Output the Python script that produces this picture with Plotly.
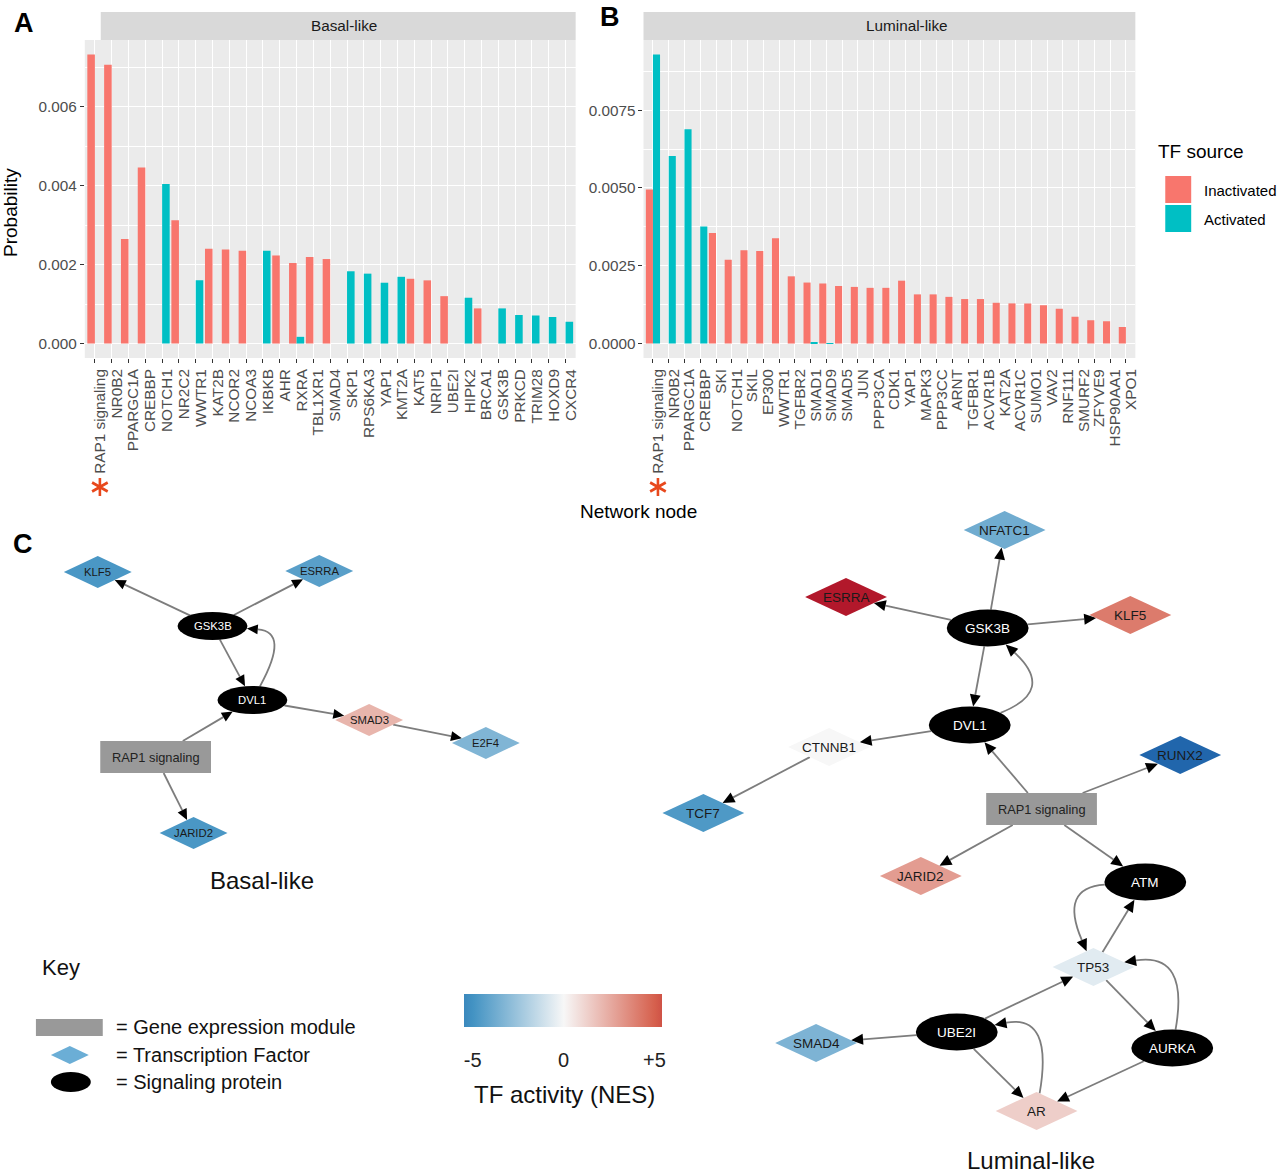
import numpy as np
import plotly.graph_objects as go
from plotly.colors import sample_colorscale

W, H = 1280, 1175
FONT = "Liberation Sans, Arial, sans-serif"

# ---------------- panels A / B : probability per network node ----------------
basal_nodes = ["RAP1 signaling", "NR0B2", "PPARGC1A", "CREBBP", "NOTCH1", "NR2C2", "WWTR1",
               "KAT2B", "NCOR2", "NCOA3", "IKBKB", "AHR", "RXRA", "TBL1XR1", "SMAD4", "SKP1",
               "RPS6KA3", "YAP1", "KMT2A", "KAT5", "NRIP1", "UBE2I", "HIPK2", "BRCA1", "GSK3B",
               "PRKCD", "TRIM28", "HOXD9", "CXCR4"]
basal_inactivated = [0.00732, 0.00706, 0.00265, 0.00446, 0, 0.00312, 0, 0.00240, 0.00238, 0.00235,
                     0, 0.00223, 0.00204, 0.00219, 0.00214, 0, 0, 0, 0, 0.00164,
                     0.00160, 0.00120, 0, 0.00089, 0, 0, 0, 0, 0]
basal_activated = [0, 0, 0, 0, 0.00404, 0, 0.00160, 0, 0, 0,
                   0.00235, 0, 0.00017, 0, 0, 0.00183, 0.00177, 0.00154, 0.00169, 0,
                   0, 0, 0.00116, 0, 0.00089, 0.00072, 0.00071, 0.00067, 0.00055]

luminal_nodes = ["RAP1 signaling", "NR0B2", "PPARGC1A", "CREBBP", "SKI", "NOTCH1", "SKIL", "EP300",
                 "WWTR1", "TGFBR2", "SMAD1", "SMAD9", "SMAD5", "JUN", "PPP3CA", "CDK1", "YAP1",
                 "MAPK3", "PPP3CC", "ARNT", "TGFBR1", "ACVR1B", "KAT2A", "ACVR1C", "SUMO1", "VAV2",
                 "RNF111", "SMURF2", "ZFYVE9", "HSP90AA1", "XPO1"]
luminal_inactivated = [0.00495, 0, 0, 0, 0.00355, 0.00269, 0.00300, 0.00297, 0.00338, 0.00216,
                       0.00196, 0.00193, 0.00185, 0.00182, 0.00179, 0.00179, 0.00202, 0.00158, 0.00158, 0.00150,
                       0.00143, 0.00143, 0.00131, 0.00129, 0.00129, 0.00123, 0.00112, 0.00086, 0.00075, 0.00072,
                       0.00053]
luminal_activated = [0.00929, 0.00603, 0.00689, 0.00376, 0, 0, 0, 0, 0, 0,
                     0.00002, 0.00001, 0, 0, 0, 0, 0, 0, 0, 0,
                     0, 0, 0, 0, 0, 0, 0, 0, 0, 0,
                     0]

source_names = ["Inactivated", "Activated"]
source_colors = ["#F8766D", "#00BFC4"]
highlight_node = "RAP1 signaling"

# ---------------- panel C : networks (layout positions in page pixels) ----------------
basal_net_names = ["KLF5", "ESRRA", "GSK3B", "DVL1", "SMAD3", "E2F4", "RAP1 signaling", "JARID2"]
basal_net_kind = ["tf", "tf", "sig", "sig", "tf", "tf", "module", "tf"]
basal_net_x = [98, 320, 213, 253, 370, 487, 156, 194]
basal_net_y = [572, 571, 626, 700, 720, 743, 757, 833]
basal_net_nes = [-4.8, -4.4, None, None, 2.2, -3.3, None, -4.8]
basal_edges = [("GSK3B", "KLF5", 0), ("GSK3B", "ESRRA", 0), ("GSK3B", "DVL1", 0),
               ("DVL1", "GSK3B", 0.78), ("DVL1", "SMAD3", 0), ("SMAD3", "E2F4", 0),
               ("RAP1 signaling", "DVL1", 0), ("RAP1 signaling", "JARID2", 0)]

luminal_net_names = ["NFATC1", "ESRRA", "KLF5", "GSK3B", "DVL1", "CTNNB1", "TCF7", "RUNX2",
                     "RAP1 signaling", "JARID2", "ATM", "TP53", "UBE2I", "SMAD4", "AURKA", "AR"]
luminal_net_kind = ["tf", "tf", "tf", "sig", "sig", "tf", "tf", "tf",
                    "module", "tf", "sig", "tf", "sig", "tf", "sig", "tf"]
luminal_net_x = [1007, 848, 1133, 990, 972, 831, 705, 1183, 1044, 923, 1148, 1096, 959, 818, 1175, 1039]
luminal_net_y = [530, 597, 615, 628, 725, 747, 813, 755, 809, 876, 882, 967, 1032, 1043, 1048, 1111]
luminal_net_nes = [-3.75, 7.0, 4.1, None, None, 0.0, -4.7, -7.0, None, 3.0, None, -0.6, None, -3.4, None, 1.35]
luminal_edges = [("GSK3B", "NFATC1", 0), ("GSK3B", "ESRRA", 0), ("GSK3B", "KLF5", 0),
                 ("GSK3B", "DVL1", 0), ("DVL1", "GSK3B", 0.8), ("DVL1", "CTNNB1", 0),
                 ("CTNNB1", "TCF7", 0), ("RAP1 signaling", "DVL1", 0), ("RAP1 signaling", "RUNX2", 0),
                 ("RAP1 signaling", "JARID2", 0), ("RAP1 signaling", "ATM", 0), ("ATM", "TP53", 0.71),
                 ("TP53", "ATM", 0), ("TP53", "AURKA", 0), ("AURKA", "TP53", 0.7),
                 ("UBE2I", "TP53", 0), ("UBE2I", "SMAD4", 0), ("UBE2I", "AR", 0),
                 ("AR", "UBE2I", 0.72), ("AURKA", "AR", 0)]

# TF activity colour scale: blue - white - red, darker beyond +/-5
NES_STOPS = [-7, -5, 0, 5, 7]
NES_COLORS = ["#2166ac", "#4393c3", "#f7f7f7", "#d6604d", "#b2182b"]
NES_SCALE = [[(v - NES_STOPS[0]) / (NES_STOPS[-1] - NES_STOPS[0]), c] for v, c in zip(NES_STOPS, NES_COLORS)]


def px(x):
    return x / W


def py(y):
    return 1 - y / H


def nes_color(v):
    f = (v - NES_STOPS[0]) / (NES_STOPS[-1] - NES_STOPS[0])
    return sample_colorscale(NES_SCALE, [min(max(f, 0), 1)])[0]


def note(text, x, y, size, color="#111111", ref="paper", **kw):
    xr, yr = (ref, ref) if ref == "paper" else ref
    if ref == "paper":
        x, y = px(x), py(y)
    d = dict(xref=xr, yref=yr, x=x, y=y, text=text, showarrow=False, xanchor="center", yanchor="middle",
             font=dict(size=size, color=color))
    d.update(kw)
    return d


def clip_t(node, dx, dy):
    rx, ry = node["rx"], node["ry"]
    if node["kind"] == "sig":
        return 1 / np.hypot(dx / rx, dy / ry)
    if node["kind"] == "tf":
        return 1 / (abs(dx) / rx + abs(dy) / ry)
    return min(rx / abs(dx) if dx else np.inf, ry / abs(dy) if dy else np.inf)


def draw_network(names, kinds, xs, ys, nes, edges, sizes, fsize, alen, aw):
    nodes = {}
    for n, k, x, y, v in zip(names, kinds, xs, ys, nes):
        nodes[n] = dict(kind=k, x=x, y=y, nes=v, rx=sizes[k][0], ry=sizes[k][1])
    shp, ann = [], []
    ref = dict(xref="x3", yref="y3")
    for src, dst, bend in edges:
        s, t = nodes[src], nodes[dst]
        dx, dy = t["x"] - s["x"], t["y"] - s["y"]
        cx = (s["x"] + t["x"]) / 2 - bend * dy
        cy = (s["y"] + t["y"]) / 2 + bend * dx
        ux, uy = cx - s["x"], cy - s["y"]
        k = clip_t(s, ux, uy)
        x0, y0 = s["x"] + k * ux, s["y"] + k * uy
        vx, vy = cx - t["x"], cy - t["y"]
        k = clip_t(t, vx, vy)
        x1, y1 = t["x"] + k * vx, t["y"] + k * vy
        d = np.hypot(x1 - cx, y1 - cy)
        ex, ey = (x1 - cx) / d, (y1 - cy) / d
        bx, by = x1 - alen * ex, y1 - alen * ey
        if bend:
            path = f"M {x0},{y0} Q {cx},{cy} {bx},{by}"
        else:
            path = f"M {x0},{y0} L {bx},{by}"
        shp.append(dict(type="path", path=path, line=dict(color="#7d7d7d", width=1.8), **ref))
        shp.append(dict(type="path",
                        path=f"M {x1},{y1} L {bx - aw * ey},{by + aw * ex} L {bx + aw * ey},{by - aw * ex} Z",
                        fillcolor="black", line=dict(width=0), **ref))
    for n, nd in nodes.items():
        x, y, rx, ry = nd["x"], nd["y"], nd["rx"], nd["ry"]
        if nd["kind"] == "sig":
            shp.append(dict(type="circle", x0=x - rx, x1=x + rx, y0=y - ry, y1=y + ry,
                            fillcolor="black", line=dict(width=0), **ref))
            col = "white"
        elif nd["kind"] == "tf":
            shp.append(dict(type="path",
                            path=f"M {x - rx},{y} L {x},{y - ry} L {x + rx},{y} L {x},{y + ry} Z",
                            fillcolor=nes_color(nd["nes"]), line=dict(width=0), **ref))
            col = "#1a1a1a"
        else:
            shp.append(dict(type="rect", x0=x - rx, x1=x + rx, y0=y - ry, y1=y + ry,
                            fillcolor="#999999", line=dict(width=0), **ref))
            col = "#222222"
        fs = 12.8 if nd["kind"] == "module" else fsize
        ann.append(note(n, x, y, fs, col, ref=("x3", "y3")))
    return shp, ann


fig = go.Figure()

# bars
panels = [("x", "y", basal_nodes, basal_inactivated, basal_activated),
          ("x2", "y2", luminal_nodes, luminal_inactivated, luminal_activated)]
for xa, ya, cats, inact, act in panels:
    for name, vals, col in zip(source_names, [inact, act], source_colors):
        fig.add_trace(go.Bar(x=cats, y=vals, name=name, marker=dict(color=col, line=dict(width=0)),
                             xaxis=xa, yaxis=ya, showlegend=False))

# invisible trace carrying the TF activity colour bar
cb_lo, cb_hi = -5.5, 5.4
cb_vals = [cb_lo] + [v for v in NES_STOPS if cb_lo < v < cb_hi] + [cb_hi]
cb_scale = [[(v - cb_lo) / (cb_hi - cb_lo), nes_color(v)] for v in cb_vals]
fig.add_trace(go.Scatter(
    x=[None], y=[None], mode="markers", xaxis="x3", yaxis="y3", showlegend=False, hoverinfo="skip",
    marker=dict(color=[0], colorscale=cb_scale, cmin=cb_lo, cmax=cb_hi, showscale=True,
                colorbar=dict(orientation="h", x=px(564), xanchor="center", y=py(994), yanchor="top",
                              len=198, lenmode="pixels", thickness=33, thicknessmode="pixels",
                              outlinewidth=0, xpad=0, ypad=0,
                              tickvals=[-5, 0, 5], ticktext=["-5", "0", "+5"],
                              ticks="outside", ticklen=16, tickcolor="rgba(0,0,0,0)",
                              tickfont=dict(size=20, color="#222222", family=FONT))),
))

shapes, annotations = [], []

# panel backgrounds and strips
for xa, ya in [("x", "y"), ("x2", "y2")]:
    shapes.append(dict(type="rect", xref=f"{xa} domain", yref=f"{ya} domain", x0=0, x1=1, y0=0, y1=1,
                       fillcolor="#EBEBEB", line=dict(width=0), layer="below"))
for x0, x1, label, tx in [(101, 577, "Basal-like", 345), (645, 1138, "Luminal-like", 909)]:
    shapes.append(dict(type="rect", xref="paper", yref="paper", x0=px(x0), x1=px(x1), y0=py(40), y1=py(12),
                       fillcolor="#D9D9D9", line=dict(width=0)))
    annotations.append(note(label, tx, 26, 15.3, "#1A1A1A"))

# asterisk under the highlighted node of each panel (pixel-sized path anchored at the category)
star = "M 5,-9 L 5,9 M -2.8,-4.5 L 12.8,4.5 M -2.8,4.5 L 12.8,-4.5"
for xa, cats in [("x", basal_nodes), ("x2", luminal_nodes)]:
    shapes.append(dict(type="path", xref=xa, yref="paper", xsizemode="pixel", ysizemode="pixel",
                       xanchor=cats.index(highlight_node), yanchor=py(487), path=star,
                       line=dict(color="#E8481C", width=2.6)))

# TF source legend
annotations.append(note("TF source", 1159, 151, 19, "black", xanchor="left"))
for i, (name, col) in enumerate(zip(source_names, source_colors)):
    top = 176 + 29 * i
    shapes.append(dict(type="rect", xref="paper", yref="paper", x0=px(1168), x1=px(1194),
                       y0=py(top + 27), y1=py(top), fillcolor=col, line=dict(width=0)))
    annotations.append(note(name, 1205, top + 14, 15, "black", xanchor="left"))

# axis titles, panel letters
annotations += [
    note("Probability", 10, 212, 19, "black", textangle=-90),
    note("Network node", 640, 511, 19, "black"),
    note("<b>A</b>", 24, 23, 27, "black"),
    note("<b>B</b>", 611, 17, 27, "black"),
    note("<b>C</b>", 23, 544, 27, "black"),
]

# networks
s1, a1 = draw_network(basal_net_names, basal_net_kind, basal_net_x, basal_net_y, basal_net_nes, basal_edges,
                      {"sig": (35, 14), "tf": (34, 16), "module": (55.5, 16)}, 11.3, 11, 5)
s2, a2 = draw_network(luminal_net_names, luminal_net_kind, luminal_net_x, luminal_net_y, luminal_net_nes,
                      luminal_edges, {"sig": (41, 18.5), "tf": (41, 19), "module": (55.5, 16)}, 13.5, 12, 5.5)
shapes += s1 + s2
annotations += a1 + a2
annotations += [note("Basal-like", 263, 880, 24), note("Luminal-like", 1033, 1160, 24)]

# key
shapes += [
    dict(type="rect", xref="x3", yref="y3", x0=36, x1=103, y0=1019, y1=1036, fillcolor="#999999",
         line=dict(width=0)),
    dict(type="path", xref="x3", yref="y3", path="M 51,1055 L 70,1046 L 89,1055 L 70,1064 Z",
         fillcolor="#6BAED6", line=dict(width=0)),
    dict(type="circle", xref="x3", yref="y3", x0=51, x1=91, y0=1072, y1=1092, fillcolor="black",
         line=dict(width=0)),
]
annotations.append(note("Key", 40, 967, 22, xanchor="left"))
for y, txt in [(1027, "= Gene expression module"), (1055, "= Transcription Factor"), (1082, "= Signaling protein")]:
    annotations.append(note(txt, 114, y, 20, xanchor="left"))
annotations.append(note("TF activity (NES)", 566, 1094, 24))

# axes
tick_font = dict(size=15.3, color="#4D4D4D")
common_x = dict(type="category", tickangle=-90, tickfont=tick_font, ticks="outside", ticklen=4,
                tickmode="linear", tick0=0, dtick=1,
                tickcolor="#333333", showgrid=True, gridcolor="white", gridwidth=1.4, zeroline=False,
                showline=False, ticklabelshift=5)
common_y = dict(tickfont=tick_font, ticks="outside", ticklen=4, tickcolor="#333333", showgrid=True,
                gridcolor="white", gridwidth=1.4, zeroline=False, showline=False)
ydom = [py(358), py(40)]
fig.update_layout(
    xaxis=dict(domain=[px(85), px(577)], anchor="y", range=[-0.6, len(basal_nodes) - 0.4],
               categoryorder="array", categoryarray=basal_nodes, **common_x),
    yaxis=dict(domain=ydom, anchor="x", range=[-0.05 * max(basal_inactivated), 1.05 * max(basal_inactivated)],
               dtick=0.002, tick0=0, tickformat=".3f",
               minor=dict(dtick=0.001, showgrid=True, gridcolor="white", gridwidth=0.7), **common_y),
    xaxis2=dict(domain=[px(645), px(1138)], anchor="y2", range=[-0.6, len(luminal_nodes) - 0.4],
                categoryorder="array", categoryarray=luminal_nodes, **common_x),
    yaxis2=dict(domain=ydom, anchor="x2", range=[-0.05 * max(luminal_activated), 1.05 * max(luminal_activated)],
                dtick=0.0025, tick0=0, tickformat=".4f",
                minor=dict(dtick=0.00125, showgrid=True, gridcolor="white", gridwidth=0.7), **common_y),
    xaxis3=dict(domain=[0, 1], anchor="y3", range=[0, W], visible=False),
    yaxis3=dict(domain=[0, py(500)], anchor="x3", range=[H, 500], visible=False),
    barmode="group", bargap=0.1, bargroupgap=0,
    width=W, height=H, margin=dict(l=0, r=0, t=0, b=0),
    paper_bgcolor="white", plot_bgcolor="rgba(0,0,0,0)",
    font=dict(family=FONT, color="black"),
    shapes=shapes, annotations=annotations, showlegend=False,
)

# page body has a default margin; remove it so the figure fills the window
fig.write_html("out.html", config={"displayModeBar": False},
               post_script="document.body.style.margin='0px';")
